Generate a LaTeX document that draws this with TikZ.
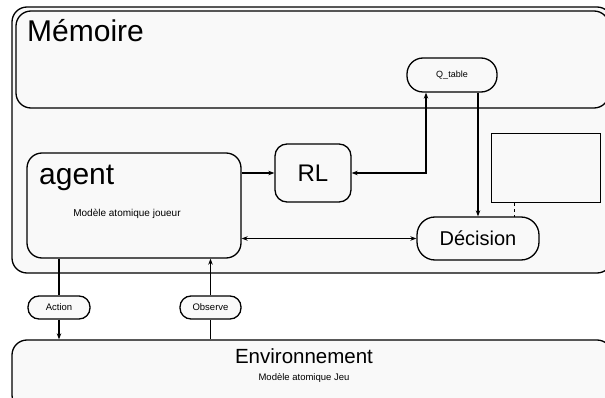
\documentclass[tikz,border=0pt]{standalone}
\usepackage{fontspec}
\setmainfont{Liberation Sans}
\usetikzlibrary{arrows.meta}
\definecolor{fond}{HTML}{F9F9F9}

\begin{document}
\begin{tikzpicture}[x=1pt,y=-1pt,>={Stealth[length=6pt,width=4.5pt]},
    bloc/.style={draw,line width=1.3pt,fill=fond,rounded corners=#1,inner sep=0pt},
    bloc/.default=15pt,
    fleche/.style={line width=1.3pt}]

    \useasboundingbox[fill=white] (0,0) rectangle (605,398);

    % Les grands blocs
    \node[bloc, minimum width=600pt, minimum height=266pt] (systeme) at (312,140) {};
    \node[bloc, minimum width=593pt, minimum height=97pt] (memoire) at (312.5,59.5) {};
    \node[anchor=base west, inner sep=0pt] (tmemoire) at (27,42) {\fontsize{30}{30}\selectfont Mémoire};

    % Q_table
    \node[bloc=16pt, minimum width=90pt, minimum height=34pt] (qtable) at (452,75) {\fontsize{9}{9}\selectfont Q\_table};

    % L'agent
    \node[bloc, minimum width=214pt, minimum height=105pt] (agent) at (134,205.5) {};
    \node[anchor=base west, inner sep=0pt] (tagent) at (39,185) {\fontsize{30}{30}\selectfont agent};
    \node[inner sep=0pt] (joueur) at (127,214) {\fontsize{10}{10}\selectfont Modèle atomique joueur};

    % RL et Décision
    \node[bloc=12pt, minimum width=76pt, minimum height=58pt] (rl) at (313,173) {\fontsize{24}{24}\selectfont RL};
    \node[bloc=18pt, minimum width=122pt, minimum height=43pt] (decision) at (478,238.5) {\fontsize{20}{20}\selectfont Décision};
    \node[draw, line width=1pt, fill=fond, minimum width=109pt, minimum height=69pt] (ecran) at (545.5,168.5) {};

    % L'environnement
    \node[bloc, minimum width=600pt, minimum height=70pt] (env) at (312,375) {};
    \node[inner sep=0pt] (tenv) at (304,356) {\fontsize{20.5}{20.5}\selectfont Environnement};
    \node[inner sep=0pt] (jeu) at (304,378) {\fontsize{9.5}{9.5}\selectfont Modèle atomique Jeu};

    % Action et Observe
    \node[bloc=11pt, minimum width=62pt, minimum height=23pt] (action) at (59,307.5) {\fontsize{9.5}{9.5}\selectfont Action};
    \node[bloc=11pt, minimum width=61pt, minimum height=23pt] (observe) at (210.5,307.5) {\fontsize{9.5}{9.5}\selectfont Observe};

    % Les liaisons
    \coordinate (coin) at (426,173);
    \coordinate (pointille) at (514,217);
    \draw[fleche,->] (agent.east |- rl.west) -- (rl.west);
    \draw[fleche,<->] (rl.east) -- (coin) -- (coin |- qtable.south);
    \draw[fleche,->] (decision.north |- qtable.south) -- (decision.north);
    \draw[fleche,<->] (agent.east |- decision.west) -- (decision.west);
    \draw[line width=1pt,dashed] (ecran.south -| pointille) -- (pointille);

    \draw[fleche] (agent.south -| action.north) -- (action.north);
    \draw[fleche,->] (action.south) -- (env.north -| action.south);
    \draw[fleche] (env.north -| observe.south) -- (observe.south);
    \draw[fleche,->] (observe.north) -- (agent.south -| observe.north);
\end{tikzpicture}
\end{document}
